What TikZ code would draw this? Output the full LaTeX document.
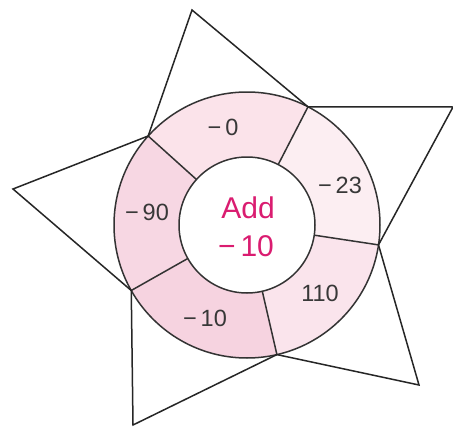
\documentclass[tikz,border=0pt]{standalone}
\usepackage{fontspec}
\setmainfont{Liberation Sans}
\begin{document}
\begin{tikzpicture}[x=1pt,y=-1pt,
  ringline/.style={draw=black!80,line width=1.5pt},
  starline/.style={draw=black!85,line width=1.5pt,line join=miter},
  lab/.style={text=black!78,font=\fontsize{23.5}{26}\selectfont,inner sep=0pt},
  centerlab/.style={text=magenta!75!red!90!black,font=\fontsize{30}{34}\selectfont,inner sep=0pt}]
\useasboundingbox (0,0) rectangle (453,431);
\fill[white] (0,0) rectangle (453,431);
\coordinate (C) at (247,225);
% ring sectors
\begin{scope}[shift={(247,225)}]
\fill[fill={rgb,255:red,251;green,227;blue,234}] (-138:133) arc[start angle=-138,end angle=-62.7,radius=133] -- (-62.7:68) arc[start angle=-62.7,end angle=-138,radius=68] -- cycle;
\fill[fill={rgb,255:red,252;green,238;blue,242}] (-62.7:133) arc[start angle=-62.7,end angle=8.6,radius=133] -- (8.6:68) arc[start angle=8.6,end angle=-62.7,radius=68] -- cycle;
\fill[fill={rgb,255:red,250;green,228;blue,236}] (8.6:133) arc[start angle=8.6,end angle=77,radius=133] -- (77:68) arc[start angle=77,end angle=8.6,radius=68] -- cycle;
\fill[fill={rgb,255:red,246;green,211;blue,224}] (77:133) arc[start angle=77,end angle=150.5,radius=133] -- (150.5:68) arc[start angle=150.5,end angle=77,radius=68] -- cycle;
\fill[fill={rgb,255:red,247;green,215;blue,227}] (150.5:133) arc[start angle=150.5,end angle=222,radius=133] -- (222:68) arc[start angle=222,end angle=150.5,radius=68] -- cycle;
% vertices on the outer circle and inner circle
\coordinate (A1) at (-62.7:133); \coordinate (B1) at (-62.7:68);
\coordinate (A2) at (8.6:133);   \coordinate (B2) at (8.6:68);
\coordinate (A3) at (77:133);    \coordinate (B3) at (77:68);
\coordinate (A4) at (150.5:133); \coordinate (B4) at (150.5:68);
\coordinate (A5) at (222:133);   \coordinate (B5) at (222:68);
\draw[ringline] (0,0) circle[radius=133];
\draw[ringline] (0,0) circle[radius=68];
\end{scope}
% dividers
\draw[ringline] (B1) -- (A1);
\draw[ringline] (B2) -- (A2);
\draw[ringline] (B3) -- (A3);
\draw[ringline] (B4) -- (A4);
\draw[ringline] (B5) -- (A5);
% star points
\coordinate (T) at (192,10);
\coordinate (R) at (453,107);
\coordinate (BR) at (419,385);
\coordinate (BL) at (133,425);
\coordinate (L) at (13,189);
\draw[starline] (A5) -- (T) -- (A1) -- (R) -- (A2) -- (BR) -- (A3) -- (BL) -- (A4) -- (L) -- cycle;
% labels
\node[lab] (n0) at (223,127) {−\,0};
\node[lab] (n23) at (340,185) {−\,23};
\node[lab] (n110) at (320,293) {110};
\node[lab] (n10) at (205,318) {−\,10};
\node[lab] (n90) at (147,212) {−\,90};
\node[centerlab] (add) at (248,208) {Add};
\node[centerlab] (ten) at (246,246) {−\,10};
\end{tikzpicture}
\end{document}
